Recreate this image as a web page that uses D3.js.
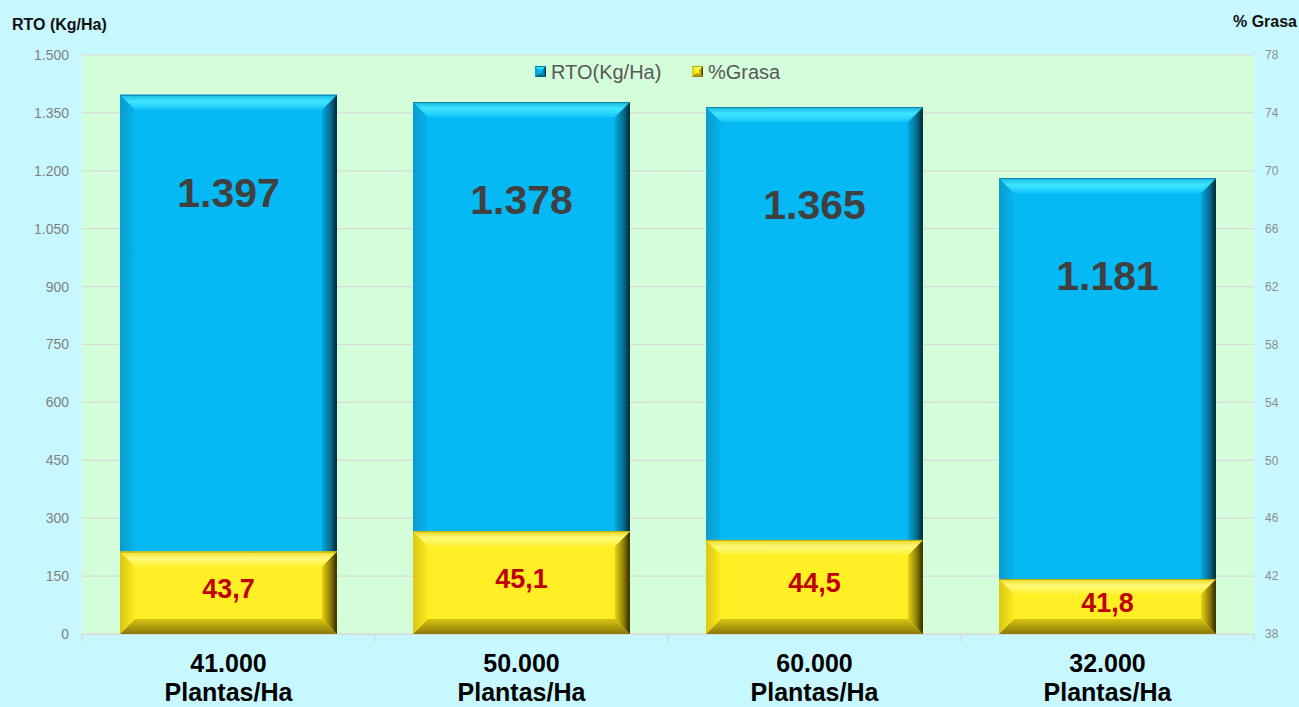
<!DOCTYPE html>
<html>
<head>
<meta charset="utf-8">
<script src="https://cdn.jsdelivr.net/npm/d3@7"></script>
<style>
  body { margin: 0; background: #c8f8ff; }
  svg { display: block; font-family: "Liberation Sans", Arial, sans-serif; }
</style>
</head>
<body>
<div class="chart"></div>
<script>
// chart data
var categories = ["41.000", "50.000", "60.000", "32.000"];
var catUnit = "Plantas/Ha";
var rto = [1397, 1378, 1365, 1181];       // Kg/Ha, left axis
var grasa = [43.7, 45.1, 44.5, 41.8];     // %, right axis
var leftTicks = [0, 150, 300, 450, 600, 750, 900, 1050, 1200, 1350, 1500];
var rightTicks = [38, 42, 46, 50, 54, 58, 62, 66, 70, 74, 78];
var seriesNames = ["RTO(Kg/Ha)", "%Grasa"];

(function () {
  var width = 1299, height = 707;
  var left = 82, right = 1254, top = 55, bottom = 634;
  var bev = 15;

  var es = d3.formatLocale({ decimal: ",", thousands: ".", grouping: [3], currency: ["", ""] });
  var fmtInt = es.format(",d");
  var fmt1 = es.format(".1f");

  var svg = d3.select(".chart").append("svg")
    .attr("width", width).attr("height", height);

  var defs = svg.append("defs");
  function grad(id, x2, y2, stops) {
    var g = defs.append("linearGradient").attr("id", id)
      .attr("x1", 0).attr("y1", 0).attr("x2", x2).attr("y2", y2);
    stops.forEach(function (s) {
      g.append("stop").attr("offset", s[0]).attr("stop-color", s[1]);
    });
  }
  // blue bevel gradients
  grad("bTop", 0, 1, [[0, "#1ab8e0"], [0.45, "#3ee6ff"], [1, "#14c4f8"]]);
  grad("bLeft", 1, 0, [[0, "#0a9ccc"], [1, "#06b4ee"]]);
  grad("bRight", 1, 0, [[0, "#04a8dc"], [0.6, "#046a8c"], [1, "#01242e"]]);
  grad("bBot", 0, 1, [[0, "#0496c4"], [1, "#025a78"]]);
  // yellow bevel gradients
  grad("yTop", 0, 1, [[0, "#e8d820"], [0.45, "#fff97a"], [1, "#fff236"]]);
  grad("yLeft", 1, 0, [[0, "#d8c814"], [1, "#ffec1e"]]);
  grad("yRight", 1, 0, [[0, "#e6d414"], [0.6, "#8a7a06"], [1, "#2e2800"]]);
  grad("yBot", 0, 1, [[0, "#d8c412"], [1, "#8a7a08"]]);

  var palette = {
    blue: { face: "#05b9f5", top: "url(#bTop)", left: "url(#bLeft)", right: "url(#bRight)", bot: "url(#bBot)", edge: "#0a7fa8" },
    yellow: { face: "#ffef24", top: "url(#yTop)", left: "url(#yLeft)", right: "url(#yRight)", bot: "url(#yBot)", edge: "#b8a80c" }
  };

  // scales
  var x = d3.scaleBand().domain(categories).range([left, right])
    .paddingInner(0.26).paddingOuter(0.13);
  var y = d3.scaleLinear().domain([0, 1500]).range([bottom, top]);
  var y2 = d3.scaleLinear().domain([38, 78]).range([bottom, top]);

  // plot area
  svg.append("rect").attr("x", left).attr("y", top)
    .attr("width", right - left).attr("height", bottom - top)
    .attr("fill", "#d4fdd9");

  // gridlines
  svg.append("g").selectAll("line").data(leftTicks).enter().append("line")
    .attr("x1", left).attr("x2", right)
    .attr("y1", function (d) { return y(d); }).attr("y2", function (d) { return y(d); })
    .attr("stroke", "#d9d9d9").attr("stroke-width", 1.2);

  // left axis labels
  svg.append("g").selectAll("text").data(leftTicks).enter().append("text")
    .attr("x", 69).attr("y", function (d) { return y(d); })
    .attr("dy", "0.35em").attr("text-anchor", "end")
    .attr("font-size", 14).attr("fill", "#7f7f7f")
    .text(function (d) { return fmtInt(d); });

  // right axis labels
  svg.append("g").selectAll("text").data(rightTicks).enter().append("text")
    .attr("x", 1265).attr("y", function (d) { return y2(d); })
    .attr("dy", "0.35em").attr("text-anchor", "start")
    .attr("font-size", 12).attr("fill", "#8c8c8c")
    .text(function (d) { return d; });

  // axis titles
  svg.append("text").attr("x", 12).attr("y", 30)
    .attr("font-size", 16).attr("font-weight", "bold").attr("fill", "#111")
    .text("RTO (Kg/Ha)");
  svg.append("text").attr("x", 1297).attr("y", 27).attr("text-anchor", "end")
    .attr("font-size", 16).attr("font-weight", "bold").attr("fill", "#111")
    .text("% Grasa");

  // beveled bar
  function bevelBar(g, x0, y0, w, h, c, b) {
    b = Math.min(b, h / 2);
    var x1 = x0 + w, y1 = y0 + h;
    g.append("rect").attr("x", x0).attr("y", y0).attr("width", w).attr("height", h).attr("fill", c.face);
    function poly(pts, fill) {
      g.append("polygon").attr("points", pts.map(function (p) { return p.join(","); }).join(" ")).attr("fill", fill);
    }
    poly([[x0, y0], [x0 + b, y0 + b], [x0 + b, y1 - b], [x0, y1]], c.left);
    poly([[x0, y1], [x1, y1], [x1 - b, y1 - b], [x0 + b, y1 - b]], c.bot);
    poly([[x1, y0], [x1, y1], [x1 - b, y1 - b], [x1 - b, y0 + b]], c.right);
    poly([[x0, y0], [x1, y0], [x1 - b, y0 + b], [x0 + b, y0 + b]], c.top);
    g.append("line").attr("x1", x0).attr("x2", x1).attr("y1", y0 + 0.5).attr("y2", y0 + 0.5)
      .attr("stroke", c.edge).attr("stroke-width", 1);
  }

  var bars = svg.append("g");
  categories.forEach(function (cat, i) {
    var bx = x(cat), bw = x.bandwidth();
    bevelBar(bars, bx, y(rto[i]), bw, y(0) - y(rto[i]), palette.blue, bev);
    bevelBar(bars, bx, y2(grasa[i]), bw, y2(38) - y2(grasa[i]), palette.yellow, bev);
  });

  // baseline and category ticks
  svg.append("line").attr("x1", left).attr("x2", right)
    .attr("y1", bottom + 0.5).attr("y2", bottom + 0.5)
    .attr("stroke", "#d9d9d9").attr("stroke-width", 1.2);
  var bounds = categories.map(function (c) { return x(c) - x.step() * x.paddingInner() / 2; });
  bounds[0] = left;
  bounds.push(right);
  svg.append("g").selectAll("line").data(bounds).enter().append("line")
    .attr("x1", function (d) { return d; }).attr("x2", function (d) { return d; })
    .attr("y1", bottom).attr("y2", bottom + 8)
    .attr("stroke", "#d9d9d9").attr("stroke-width", 1.5);

  // value labels
  svg.append("g").selectAll("text").data(rto).enter().append("text")
    .attr("x", function (d, i) { return x(categories[i]) + x.bandwidth() / 2; })
    .attr("y", function (d) { return y(d) + 98; })
    .attr("dy", "0.35em").attr("text-anchor", "middle")
    .attr("font-size", 41).attr("font-weight", "bold").attr("fill", "#404040")
    .text(function (d) { return fmtInt(d); });

  svg.append("g").selectAll("text").data(grasa).enter().append("text")
    .attr("x", function (d, i) { return x(categories[i]) + x.bandwidth() / 2; })
    .attr("y", function (d) { return (y2(d) + y2(38)) / 2 - 4; })
    .attr("dy", "0.35em").attr("text-anchor", "middle")
    .attr("font-size", 27).attr("font-weight", "bold").attr("fill", "#c00000")
    .text(function (d) { return fmt1(d); });

  // category labels
  var cl = svg.append("g").selectAll("text").data(categories).enter().append("text")
    .attr("text-anchor", "middle").attr("font-size", 25).attr("font-weight", "bold").attr("fill", "#000");
  cl.append("tspan").attr("x", function (d) { return x(d) + x.bandwidth() / 2; }).attr("y", 672)
    .text(function (d) { return d; });
  cl.append("tspan").attr("x", function (d) { return x(d) + x.bandwidth() / 2; }).attr("y", 701)
    .text(catUnit);

  // legend
  var legX = [535, 692];
  var legPal = [palette.blue, palette.yellow];
  var leg = svg.append("g").selectAll("g").data(seriesNames).enter().append("g")
    .attr("transform", function (d, i) { return "translate(" + legX[i] + ",66)"; });
  leg.each(function (d, i) { bevelBar(d3.select(this), 0, 0, 11, 11, legPal[i], 4); });
  leg.append("text").attr("x", 16).attr("y", 6).attr("dy", "0.35em")
    .attr("font-size", 20).attr("fill", "#595959")
    .text(function (d) { return d; });
})();
</script>
</body>
</html>
